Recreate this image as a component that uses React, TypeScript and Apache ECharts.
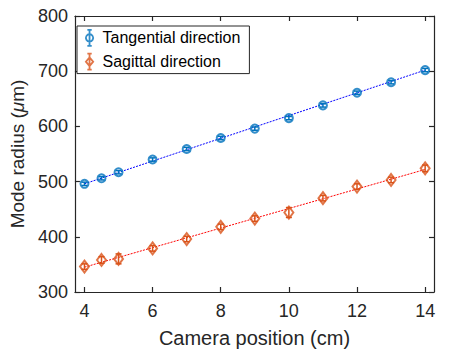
import React, { useEffect, useRef } from "react";
import * as echarts from "echarts";

const positions = [4, 4.5, 5, 6, 7, 8, 9, 10, 11, 12, 13, 14];
const tangential = [496, 506, 517, 540, 559, 579, 596, 615, 638, 661, 680, 702];
const tangentialErr = [3, 3, 3, 3, 3, 3, 3, 3, 3, 3, 3, 3];
const sagittal = [346, 358, 360, 379, 396, 418, 433, 444, 470, 491, 503, 524];
const sagittalErr = [5, 6, 9, 5, 5, 5, 5, 9, 5, 5, 5, 6];
const fitX = [4, 14];
const tangentialFit = [496, 702];
const sagittalFit = [345, 522];
const xTicks = [4, 6, 8, 10, 12, 14];
const yTicks = [300, 400, 500, 600, 700, 800];

const BLUE = "#0072BD";
const ORANGE = "#D95319";
const AX = "#262626";
const FONT = "'Liberation Sans', Arial, Helvetica, sans-serif";

function errRender(color: string) {
  return (params: any, api: any) => {
    const x = api.value(0);
    const p1 = api.coord([x, api.value(1)]);
    const p2 = api.coord([x, api.value(2)]);
    const w = 3;
    const style = { stroke: color, lineWidth: 1.5 };
    return {
      type: "group",
      children: [
        { type: "line", shape: { x1: p1[0], y1: p1[1], x2: p2[0], y2: p2[1] }, style },
        { type: "line", shape: { x1: p1[0] - w, y1: p1[1], x2: p1[0] + w, y2: p1[1] }, style },
        { type: "line", shape: { x1: p2[0] - w, y1: p2[1], x2: p2[0] + w, y2: p2[1] }, style },
      ],
    };
  };
}

const circleIcon =
  "path://M5,0 L11,0 M8,0 L8,22 M5,22 L11,22 M8,6 A5,5 0 1 1 7.99,6 Z";
const diamondIcon =
  "path://M5,0 L11,0 M8,0 L8,22 M5,22 L11,22 M8,5 L13,11 L8,17 L3,11 Z";

export default function App() {
  const ref = useRef<HTMLDivElement>(null);
  useEffect(() => {
    if (!ref.current) return;
    const chart = echarts.init(ref.current, undefined, { renderer: "svg" });
    const xMin = 3.72;
    const xMax = 14.26;
    const axisCommon = {
      axisLine: { show: true, onZero: false, lineStyle: { color: AX, width: 1.2 } },
      axisTick: { show: true, inside: true, length: 5, lineStyle: { color: AX, width: 1.2 } },
      splitLine: { show: false },
    };
    chart.setOption({
      animation: false,
      backgroundColor: "#ffffff",
      grid: { left: 67, top: 16, right: 24, bottom: 60 },
      legend: {
        left: 77,
        top: 26,
        orient: "vertical",
        backgroundColor: "#ffffff",
        borderColor: AX,
        borderWidth: 1,
        padding: [3, 9, 3, 8],
        itemGap: 6,
        itemWidth: 16,
        itemHeight: 16,
        textStyle: { fontFamily: FONT, fontSize: 16, color: "#000" },
        data: [
          { name: "Tangential direction", icon: circleIcon, itemStyle: { color: "transparent", borderColor: BLUE, borderWidth: 1.8 } },
          { name: "Sagittal direction", icon: diamondIcon, itemStyle: { color: "transparent", borderColor: ORANGE, borderWidth: 1.8 } },
        ],
      },
      xAxis: [
        {
          type: "value",
          min: xMin,
          max: xMax,
          ...axisCommon,
          axisTick: { ...axisCommon.axisTick, customValues: xTicks },
          axisLabel: { customValues: xTicks, color: AX, fontFamily: FONT, fontSize: 18, margin: 10 },
          name: "Camera position (cm)",
          nameLocation: "middle",
          nameGap: 36,
          nameTextStyle: { color: AX, fontFamily: FONT, fontSize: 20 },
        },
        {
          type: "value",
          position: "top",
          min: xMin,
          max: xMax,
          ...axisCommon,
          axisTick: { ...axisCommon.axisTick, customValues: xTicks },
          axisLabel: { show: false },
        },
      ],
      yAxis: [
        {
          type: "value",
          min: 300,
          max: 800,
          interval: 100,
          ...axisCommon,
          axisLabel: { color: AX, fontFamily: FONT, fontSize: 18, margin: 7 },
          name: "{a|Mode radius (}{i|μ}{a|m)}",
          nameLocation: "middle",
          nameGap: 42,
          nameTextStyle: {
            rich: {
              a: { color: AX, fontFamily: FONT, fontSize: 19 },
              i: { color: AX, fontFamily: FONT, fontSize: 19, fontStyle: "italic" },
            },
          },
        },
        {
          type: "value",
          position: "right",
          min: 300,
          max: 800,
          interval: 100,
          ...axisCommon,
          axisLabel: { show: false },
        },
      ],
      series: [
        {
          name: "tfit",
          type: "line",
          data: fitX.map((x, i) => [x, tangentialFit[i]]),
          showSymbol: false,
          symbol: "none",
          lineStyle: { color: "#0000FF", width: 1, type: [2, 1.2] },
          silent: true,
          z: 1,
        },
        {
          name: "sfit",
          type: "line",
          data: fitX.map((x, i) => [x, sagittalFit[i]]),
          showSymbol: false,
          symbol: "none",
          lineStyle: { color: "#FF0000", width: 1, type: [2, 1.2] },
          silent: true,
          z: 1,
        },
        {
          name: "terr",
          type: "custom",
          renderItem: errRender(BLUE),
          data: positions.map((x, i) => [x, tangential[i] - tangentialErr[i], tangential[i] + tangentialErr[i]]),
          z: 2,
        },
        {
          name: "serr",
          type: "custom",
          renderItem: errRender(ORANGE),
          data: positions.map((x, i) => [x, sagittal[i] - sagittalErr[i], sagittal[i] + sagittalErr[i]]),
          z: 2,
        },
        {
          name: "Tangential direction",
          type: "scatter",
          symbol: "circle",
          symbolSize: 8,
          data: positions.map((x, i) => [x, tangential[i]]),
          itemStyle: { color: "transparent", borderColor: BLUE, borderWidth: 2 },
          z: 3,
        },
        {
          name: "Sagittal direction",
          type: "scatter",
          symbol: "diamond",
          symbolSize: [9, 12],
          data: positions.map((x, i) => [x, sagittal[i]]),
          itemStyle: { color: "transparent", borderColor: ORANGE, borderWidth: 2 },
          z: 3,
        },
      ],
    });
    return () => chart.dispose();
  }, []);
  return (
    <div
      ref={ref}
      style={{ position: "fixed", left: 0, top: 0, width: 458, height: 353 }}
    />
  );
}
